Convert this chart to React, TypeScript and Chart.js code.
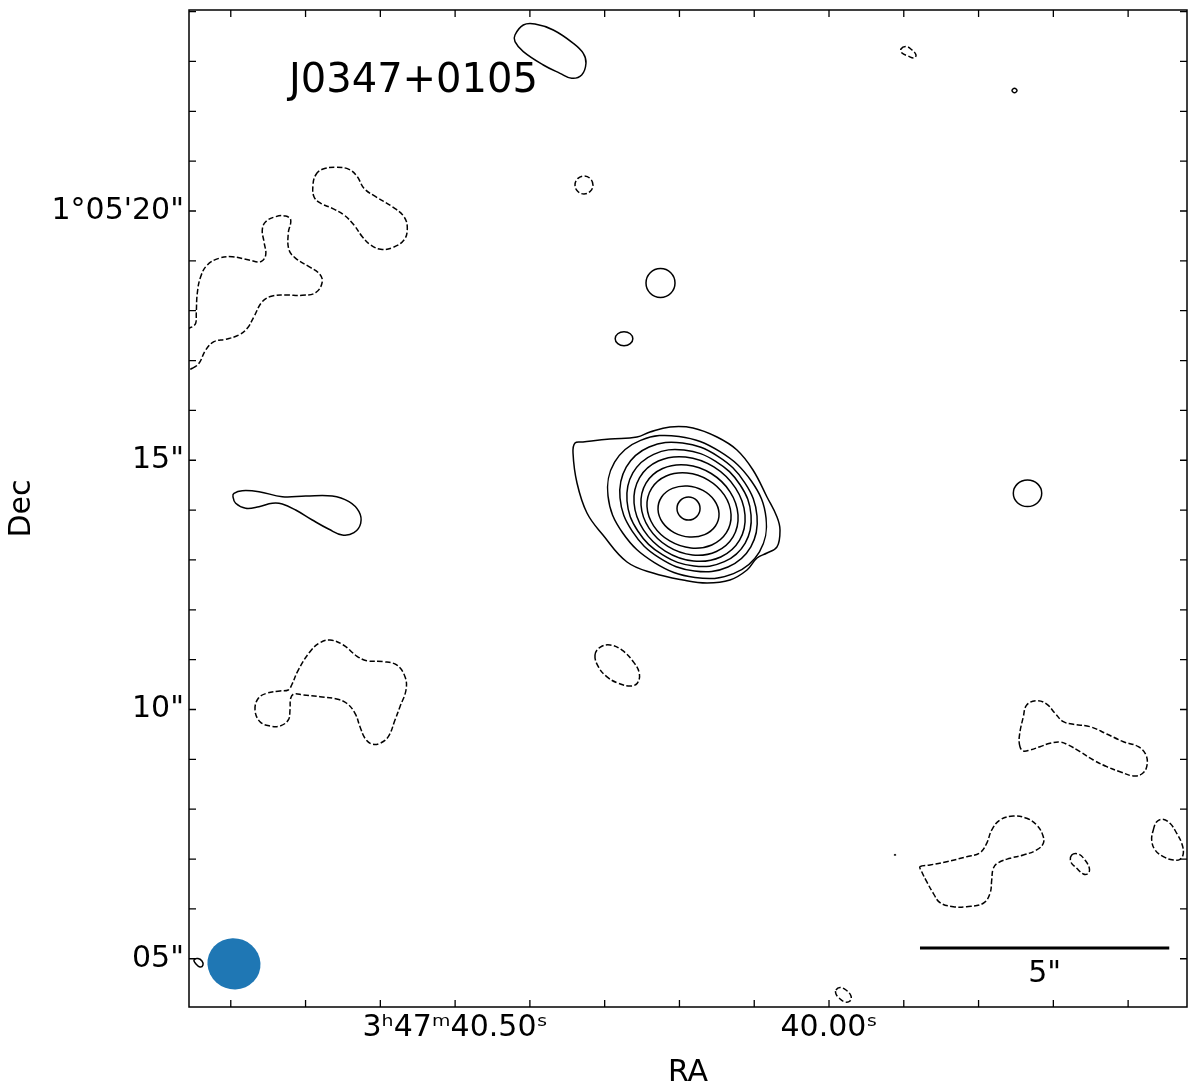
import React, { useEffect, useRef } from 'react';
import { Chart, registerables } from 'chart.js';

Chart.register(...registerables);

type Pt = [number, number];

// Axis ranges (arcsec offsets: x = east of RA 3h47m40.00s, y = north of Dec 1°05'00")
const X_MIN = -7.181;
const X_MAX = 12.838;
const Y_MIN = 4.032;
const Y_MAX = 24.032;

const xTickValues = [-6, -4.5, -3, -1.5, 0, 1.5, 3, 4.5, 6, 7.5, 9, 10.5, 12];
const xLabelValues = [7.5, 0];
const xLabelTexts = ['3ʰ47ᵐ40.50ˢ', '40.00ˢ'];
const yTickValues = [5, 6, 7, 8, 9, 10, 11, 12, 13, 14, 15, 16, 17, 18, 19, 20, 21, 22, 23, 24];
const yLabelValues = [20, 15, 10, 5];
const yLabelTexts = ['1°05\'20"', '15"', '10"', '05"'];

const sourceName = 'J0347+0105';

// Positive contours (solid)
const mainOuter: Pt[] = [[5.095,15.346],[4.935,15.366],[4.393,15.426],[3.852,15.466],[3.591,15.567],[3.190,15.667],[2.728,15.647],[2.247,15.466],[1.846,15.206],[1.525,14.804],[1.244,14.263],[1.043,13.862],[0.983,13.601],[1.043,13.260],[1.244,13.139],[1.444,13.039],[1.645,12.798],[1.986,12.598],[2.447,12.538],[2.929,12.598],[3.531,12.738],[4.052,12.959],[4.534,13.501],[4.855,13.942],[5.055,14.544],[5.135,15.145]];
const ring2: Pt[] = [[1.263,13.841],[1.395,13.164],[1.916,12.726],[2.688,12.648],[3.502,12.948],[4.141,13.546],[4.433,14.283],[4.301,14.960],[3.780,15.398],[3.008,15.476],[2.194,15.176],[1.555,14.578]];
const ring3: Pt[] = [[1.444,13.881],[1.568,13.263],[2.027,12.859],[2.698,12.778],[3.401,13.041],[3.948,13.577],[4.192,14.243],[4.068,14.861],[3.609,15.265],[2.938,15.346],[2.235,15.083],[1.688,14.547]];
const ring4: Pt[] = [[1.564,13.902],[1.681,13.339],[2.099,12.965],[2.708,12.879],[3.343,13.105],[3.835,13.581],[4.052,14.182],[3.935,14.745],[3.517,15.119],[2.908,15.205],[2.273,14.979],[1.781,14.503]];
const ring5: Pt[] = [[1.685,13.902],[1.794,13.396],[2.172,13.059],[2.718,12.979],[3.286,13.179],[3.722,13.604],[3.911,14.142],[3.802,14.648],[3.424,14.985],[2.878,15.065],[2.310,14.865],[1.874,14.440]];
const ring6: Pt[] = [[1.825,13.902],[1.925,13.463],[2.259,13.170],[2.738,13.099],[3.233,13.270],[3.611,13.637],[3.771,14.102],[3.671,14.541],[3.337,14.834],[2.858,14.905],[2.363,14.734],[1.985,14.367]];
const ring7: Pt[] = [[1.965,13.912],[2.058,13.547],[2.351,13.301],[2.768,13.240],[3.195,13.381],[3.518,13.685],[3.651,14.072],[3.558,14.437],[3.265,14.683],[2.848,14.744],[2.421,14.603],[2.098,14.299]];
const ring8: Pt[] = [[2.206,13.932],[2.278,13.681],[2.495,13.509],[2.798,13.460],[3.107,13.549],[3.338,13.751],[3.430,14.012],[3.358,14.263],[3.141,14.435],[2.838,14.484],[2.529,14.395],[2.298,14.193]];
const ring9: Pt[] = [[2.587,14.032],[2.655,14.195],[2.818,14.263],[2.981,14.195],[3.049,14.032],[2.981,13.869],[2.818,13.801],[2.655,13.869]];
const topBlob: Pt[] = [[6.299,23.531],[6.132,23.731],[5.898,23.751],[5.531,23.631],[5.129,23.364],[4.929,23.163],[4.875,22.963],[4.961,22.728],[5.161,22.662],[5.396,22.762],[5.731,22.929],[6.132,23.196],[6.299,23.396]];
const blobA: Pt[] = [[3.089,18.556],[3.174,18.762],[3.380,18.847],[3.586,18.762],[3.671,18.556],[3.586,18.350],[3.380,18.265],[3.174,18.350]];
const blobB: Pt[] = [[3.935,17.438],[3.987,17.537],[4.112,17.578],[4.237,17.537],[4.289,17.438],[4.237,17.339],[4.112,17.298],[3.987,17.339]];
const blobEast: Pt[] = [[11.936,14.337],[11.769,14.389],[11.434,14.369],[10.967,14.269],[10.497,14.283],[9.964,14.283],[9.629,14.169],[9.428,13.968],[9.394,13.735],[9.529,13.547],[9.763,13.501],[10.030,13.615],[10.365,13.801],[10.698,14.002],[10.967,14.122],[11.167,14.136],[11.434,14.068],[11.701,14.036],[11.902,14.136],[11.956,14.269]];
const blobWest: Pt[] = [[-4.267,14.337],[-4.184,14.526],[-3.982,14.604],[-3.780,14.526],[-3.697,14.337],[-3.780,14.148],[-3.982,14.070],[-4.184,14.148]];
const tinyNE: Pt[] = [[-3.771,22.417],[-3.721,22.462],[-3.671,22.417],[-3.721,22.372]];
const tinySE: Pt[] = [[-1.334,7.081],[-1.324,7.091],[-1.314,7.081]];
const tinyBeamSide: Pt[] = [[12.738,4.975],[12.658,5.005],[12.578,4.955],[12.558,4.875],[12.618,4.835],[12.698,4.895]];

// Negative contours (dashed)
const negNW1: Pt[] = [[10.297,20.722],[10.164,20.836],[9.895,20.877],[9.629,20.836],[9.462,20.688],[9.328,20.455],[9.093,20.287],[8.760,20.086],[8.526,19.886],[8.459,19.653],[8.526,19.418],[8.760,19.264],[8.993,19.232],[9.193,19.318],[9.362,19.484],[9.529,19.719],[9.729,19.920],[9.964,20.054],[10.196,20.154],[10.331,20.287],[10.351,20.522]];
const negNW2: Pt[] = [[12.772,16.845],[12.638,16.945],[12.503,17.212],[12.337,17.378],[12.102,17.426],[11.835,17.513],[11.669,17.647],[11.535,17.880],[11.368,18.181],[11.167,18.295],[10.899,18.315],[10.566,18.309],[10.297,18.361],[10.164,18.582],[10.231,18.750],[10.431,18.883],[10.698,19.051],[10.832,19.218],[10.847,19.553],[10.798,19.819],[10.899,19.900],[11.099,19.886],[11.300,19.785],[11.368,19.619],[11.334,19.384],[11.300,19.117],[11.400,18.983],[11.635,19.017],[11.970,19.083],[12.237,19.051],[12.471,18.917],[12.604,18.682],[12.672,18.349],[12.692,17.948],[12.704,17.747],[12.772,17.679],[12.838,17.647],[13.019,17.513],[13.099,17.172],[12.979,16.770]];
const negSmallN: Pt[] = [[4.735,20.522],[4.788,20.649],[4.915,20.702],[5.042,20.649],[5.095,20.522],[5.042,20.395],[4.915,20.342],[4.788,20.395]];
const negSW: Pt[] = [[11.514,9.990],[11.448,10.225],[11.280,10.325],[11.013,10.371],[10.847,10.391],[10.778,10.492],[10.646,10.792],[10.411,11.160],[10.211,11.340],[10.010,11.394],[9.743,11.294],[9.474,11.073],[9.274,10.979],[8.941,10.959],[8.672,10.893],[8.505,10.658],[8.485,10.391],[8.606,10.056],[8.706,9.789],[8.840,9.455],[9.007,9.322],[9.173,9.308],[9.308,9.422],[9.408,9.655],[9.508,9.924],[9.675,10.125],[9.875,10.211],[10.211,10.257],[10.546,10.291],[10.732,10.311],[10.798,10.225],[10.812,9.990],[10.847,9.789],[11.013,9.669],[11.214,9.669],[11.414,9.755]];
const negS: Pt[] = [[4.694,11.093],[4.594,11.248],[4.393,11.294],[4.158,11.194],[3.926,10.959],[3.805,10.726],[3.846,10.526],[3.992,10.471],[4.227,10.526],[4.459,10.658],[4.628,10.859]];
const negE1: Pt[] = [[-3.831,9.254],[-3.817,9.455],[-3.898,9.856],[-3.966,10.090],[-4.166,10.177],[-4.367,10.110],[-4.534,9.924],[-4.700,9.755],[-4.901,9.703],[-5.236,9.655],[-5.571,9.509],[-5.904,9.354],[-6.205,9.254],[-6.359,9.087],[-6.373,8.853],[-6.273,8.706],[-6.104,8.666],[-5.837,8.752],[-5.571,8.853],[-5.302,8.987],[-5.035,9.154],[-4.800,9.288],[-4.634,9.348],[-4.433,9.322],[-4.233,9.254],[-4.032,9.188],[-3.898,9.168]];
const negE2: Pt[] = [[-1.825,6.847],[-2.026,6.881],[-2.361,6.947],[-2.762,7.047],[-3.029,7.127],[-3.163,7.316],[-3.264,7.583],[-3.430,7.783],[-3.697,7.864],[-3.966,7.818],[-4.166,7.683],[-4.287,7.483],[-4.299,7.316],[-4.166,7.182],[-3.898,7.081],[-3.631,7.015],[-3.396,6.927],[-3.296,6.815],[-3.264,6.580],[-3.230,6.313],[-3.095,6.113],[-2.762,6.044],[-2.493,6.044],[-2.227,6.125],[-2.092,6.313],[-1.960,6.546],[-1.860,6.746]];
const negE3: Pt[] = [[-4.869,7.081],[-5.001,7.101],[-5.135,6.981],[-5.222,6.815],[-5.202,6.714],[-5.101,6.700],[-4.969,6.815],[-4.849,6.947]];
const negE4: Pt[] = [[-6.505,7.583],[-6.574,7.749],[-6.694,7.798],[-6.840,7.717],[-6.975,7.517],[-7.075,7.316],[-7.107,7.115],[-7.041,6.995],[-6.907,6.981],[-6.706,7.047],[-6.540,7.182],[-6.473,7.382]];
const negNE: Pt[] = [[-1.444,23.250],[-1.545,23.300],[-1.665,23.230],[-1.745,23.129],[-1.705,23.069],[-1.585,23.109],[-1.464,23.169]];
const negBottom: Pt[] = [[-0.140,4.373],[-0.221,4.423],[-0.341,4.373],[-0.441,4.253],[-0.421,4.153],[-0.321,4.133],[-0.201,4.213],[-0.140,4.293]];

const positiveContours: Pt[][] = [mainOuter, ring2, ring3, ring4, ring5, ring6, ring7, ring8, ring9, topBlob, blobA, blobB, blobEast, blobWest, tinyNE, tinySE, tinyBeamSide];
const negativeContours: Pt[][] = [negNW1, negNW2, negSmallN, negSW, negS, negE1, negE2, negE3, negE4, negNE, negBottom];

// Scale bar (5 arcsec) and beam
const scaleBarX = [-1.825, -6.825];
const scaleBarY = [5.216, 5.216];
const scaleBarLabel = '5"';
const beamCenter = [11.936, 4.899];
const beamSemiAxes = [0.535, 0.511];
const beamAngleDeg = 20;

const FONT = "'DejaVu Sans', 'Liberation Sans', sans-serif";

const closeLoops = {
  id: 'closeLoops',
  afterDatasetsUpdate(chart: any) {
    chart.data.datasets.forEach((ds: any, i: number) => {
      if (!ds.closed) return;
      const meta = chart.getDatasetMeta(i);
      if (meta && meta.dataset) {
        meta.dataset._loop = true;
        meta.dataset._fullLoop = true;
      }
    });
  },
};

const decor = {
  id: 'decor',
  afterDatasetsDraw(chart: any) {
    const { ctx, scales } = chart;
    const xs = scales.x;
    const ys = scales.y;
    ctx.save();
    // beam
    const bx = xs.getPixelForValue(beamCenter[0]);
    const by = ys.getPixelForValue(beamCenter[1]);
    const rx = Math.abs(xs.getPixelForValue(beamCenter[0] + beamSemiAxes[0]) - bx);
    const ry = Math.abs(ys.getPixelForValue(beamCenter[1] + beamSemiAxes[1]) - by);
    ctx.fillStyle = '#1f77b4';
    ctx.beginPath();
    ctx.ellipse(bx, by, rx, ry, (beamAngleDeg * Math.PI) / 180, 0, Math.PI * 2);
    ctx.fill();
    // scale bar label
    const sx = (xs.getPixelForValue(scaleBarX[0]) + xs.getPixelForValue(scaleBarX[1])) / 2;
    const sy = ys.getPixelForValue(scaleBarY[0]);
    ctx.fillStyle = '#000';
    ctx.font = `30px ${FONT}`;
    ctx.textAlign = 'center';
    ctx.textBaseline = 'alphabetic';
    ctx.fillText(scaleBarLabel, sx, sy + 34);
    // source name
    ctx.font = `40px ${FONT}`;
    ctx.textAlign = 'left';
    ctx.fillText(sourceName, chart.chartArea.left + 100, chart.chartArea.top + 82);
    ctx.restore();
  },
  afterDraw(chart: any) {
    const { ctx, chartArea: a, scales } = chart;
    const xs = scales.x;
    const ys = scales.y;
    ctx.save();
    ctx.strokeStyle = '#000';
    ctx.lineWidth = 1.5;
    ctx.strokeRect(a.left, a.top, a.right - a.left, a.bottom - a.top);
    ctx.lineWidth = 1.3;
    const L = 7;
    ctx.beginPath();
    xs.ticks.forEach((t: any) => {
      const p = xs.getPixelForValue(t.value);
      ctx.moveTo(p, a.bottom);
      ctx.lineTo(p, a.bottom - L);
      ctx.moveTo(p, a.top);
      ctx.lineTo(p, a.top + L);
    });
    ys.ticks.forEach((t: any) => {
      const p = ys.getPixelForValue(t.value);
      ctx.moveTo(a.left, p);
      ctx.lineTo(a.left + L, p);
      ctx.moveTo(a.right, p);
      ctx.lineTo(a.right - L, p);
    });
    ctx.stroke();
    ctx.restore();
  },
};

const zeroPad = (s: any) => {
  s.paddingTop = 0;
  s.paddingBottom = 0;
  s.paddingLeft = 0;
  s.paddingRight = 0;
};

export default function App() {
  const ref = useRef<HTMLCanvasElement | null>(null);

  useEffect(() => {
    if (!ref.current) return;
    Chart.defaults.font.family = FONT;
    const toData = (pts: Pt[]) => pts.map(([x, y]) => ({ x, y }));
    const datasets: any[] = [];
    positiveContours.forEach((c) =>
      datasets.push({ data: toData(c), borderColor: '#000', borderWidth: 1.5, tension: 0.4, spanGaps: true, closed: true, pointRadius: 0, fill: false })
    );
    negativeContours.forEach((c) =>
      datasets.push({ data: toData(c), borderColor: '#000', borderWidth: 1.5, borderDash: [5.5, 2.4], tension: 0.4, spanGaps: true, closed: true, pointRadius: 0, fill: false })
    );
    datasets.push({
      data: scaleBarX.map((x, i) => ({ x, y: scaleBarY[i] })),
      borderColor: '#000',
      borderWidth: 3,
      tension: 0,
      pointRadius: 0,
      fill: false,
    });

    const chart = new Chart(ref.current, {
      type: 'line',
      data: { datasets },
      options: {
        responsive: false,
        animation: false,
        devicePixelRatio: 1,
        events: [],
        layout: { padding: { top: 10, right: 13, left: 0, bottom: 0 } },
        plugins: { legend: { display: false }, tooltip: { enabled: false } },
        elements: { point: { radius: 0, hitRadius: 0 } },
        scales: {
          x: {
            type: 'linear',
            position: 'bottom',
            reverse: true,
            min: X_MIN,
            max: X_MAX,
            grid: { display: false, drawTicks: false },
            border: { display: false },
            afterBuildTicks: (s: any) => {
              s.ticks = xTickValues.map((v) => ({ value: v }));
            },
            afterFit: (s: any) => {
              s.height = 84;
              zeroPad(s);
            },
            ticks: {
              autoSkip: false,
              maxRotation: 0,
              minRotation: 0,
              padding: 3,
              color: '#000',
              font: { size: 30, family: FONT },
              callback: (v: any) => {
                const i = xLabelValues.findIndex((l) => Math.abs(l - Number(v)) < 1e-6);
                return i >= 0 ? xLabelTexts[i] : '';
              },
            },
            title: { display: true, text: 'RA', color: '#000', font: { size: 30, family: FONT }, padding: { top: 0, bottom: 0 } },
          },
          y: {
            type: 'linear',
            position: 'left',
            min: Y_MIN,
            max: Y_MAX,
            grid: { display: false, drawTicks: false },
            border: { display: false },
            afterBuildTicks: (s: any) => {
              s.ticks = yTickValues.map((v) => ({ value: v }));
            },
            afterFit: (s: any) => {
              s.width = 189;
              zeroPad(s);
            },
            ticks: {
              autoSkip: false,
              padding: 5,
              color: '#000',
              font: { size: 30, family: FONT },
              callback: (v: any) => {
                const i = yLabelValues.findIndex((l) => Math.abs(l - Number(v)) < 1e-6);
                return i >= 0 ? yLabelTexts[i] : '';
              },
            },
            title: { display: true, text: 'Dec', color: '#000', font: { size: 30, family: FONT }, padding: { top: 4, bottom: 0 } },
          },
        },
      } as any,
      plugins: [closeLoops, decor],
    });
    return () => chart.destroy();
  }, []);

  return (
    <div style={{ position: 'absolute', left: 0, top: 0, width: 1200, height: 1091, background: '#fff' }}>
      <canvas ref={ref} width={1200} height={1091} style={{ display: 'block' }} />
    </div>
  );
}
